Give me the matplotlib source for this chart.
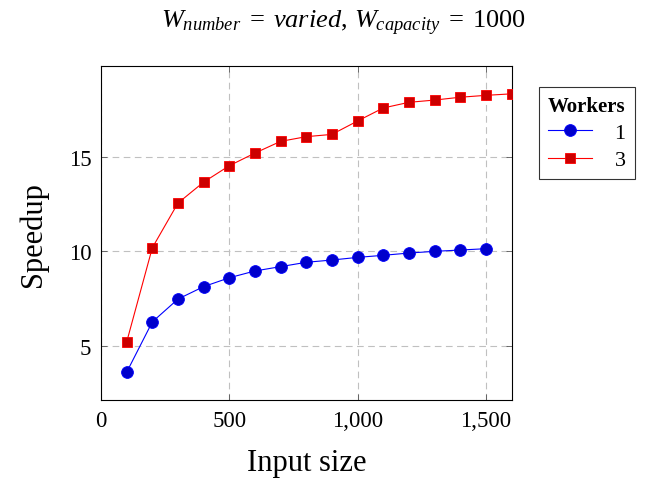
import matplotlib
matplotlib.use("Agg")
import matplotlib.pyplot as plt
from matplotlib.ticker import FuncFormatter, FixedLocator

plt.rcParams['font.family'] = ['Liberation Serif', 'DejaVu Serif']
plt.rcParams['mathtext.fontset'] = 'custom'
plt.rcParams['mathtext.rm'] = 'Liberation Serif'
plt.rcParams['mathtext.it'] = 'Liberation Serif:italic'
plt.rcParams['mathtext.bf'] = 'Liberation Serif:bold'

input_size_1 = [100, 200, 300, 400, 500, 600, 700, 800, 900, 1000, 1100, 1200, 1300, 1400, 1500]
speedup_1 = [3.59, 6.26, 7.47, 8.13, 8.60, 8.96, 9.19, 9.42, 9.54, 9.68, 9.79, 9.91, 10.0, 10.07, 10.14]
input_size_3 = [100, 200, 300, 400, 500, 600, 700, 800, 900, 1000, 1100, 1200, 1300, 1400, 1500, 1600]
speedup_3 = [5.19, 10.19, 12.56, 13.67, 14.54, 15.21, 15.83, 16.08, 16.20, 16.91, 17.60, 17.90, 18.02, 18.17, 18.27, 18.35]
x_ticks = [0, 500, 1000, 1500]
y_ticks = [5, 10, 15]

fig = plt.figure(figsize=(6.51, 4.81), dpi=100)
ax = fig.add_axes([101/651, 1-401/481, 410.5/651, (401-67.3)/481])

ax.plot(input_size_1, speedup_1, color='#0000ff', lw=0.8, marker='o', markersize=8.5,
        markerfacecolor='#0000cc', markeredgecolor='#0000ff', markeredgewidth=0.6, label='1', zorder=3)
ax.plot(input_size_3, speedup_3, color='#ff0000', lw=0.8, marker='s', markersize=7.8,
        markerfacecolor='#cc0000', markeredgecolor='#ff0000', markeredgewidth=0.6, label='3', zorder=3)

ax.set_xlim(0, 1600)
ax.set_ylim(2.12, 19.81)
ax.xaxis.set_major_locator(FixedLocator(x_ticks))
ax.yaxis.set_major_locator(FixedLocator(y_ticks))
ax.xaxis.set_major_formatter(FuncFormatter(lambda v, p: f"{int(v):,}"))
ax.tick_params(direction='in', length=4, width=0.6, color='#555555', top=True, right=True,
               labelsize=16.5)
ax.tick_params(axis='x', pad=7)
ax.tick_params(axis='y', pad=7)
ax.grid(True, color='#c0c0c0', linestyle=(0, (6, 4)), lw=0.8)
for s in ax.spines.values():
    s.set_linewidth(0.8)
    s.set_color('black')

ax.set_xlabel('Input size', fontsize=22)
ax.set_ylabel('Speedup', fontsize=22)
ax.xaxis.set_label_coords(0.5, (401-449)/333.7)
ax.yaxis.set_label_coords((48-101)/410.5, 0.5)

fig.text(343/651, 1-23/481, r'$W_{number}\;=\;varied,\,W_{capacity}\;=\;1000$', fontsize=19,
         ha='center', va='center')

leg = ax.legend(title='Workers', loc='upper left', bbox_to_anchor=(539/651, 1-88/481),
                bbox_transform=fig.transFigure, borderaxespad=0, fontsize=16, frameon=True,
                fancybox=False, edgecolor='black', borderpad=0.4, handlelength=2.0,
                handletextpad=1.0, labelspacing=0.3,
                title_fontproperties={'weight': 'bold', 'size': 15})
leg.get_frame().set_linewidth(0.8)
leg._legend_box.align = 'center'

fig.savefig('out.png', dpi=100)
